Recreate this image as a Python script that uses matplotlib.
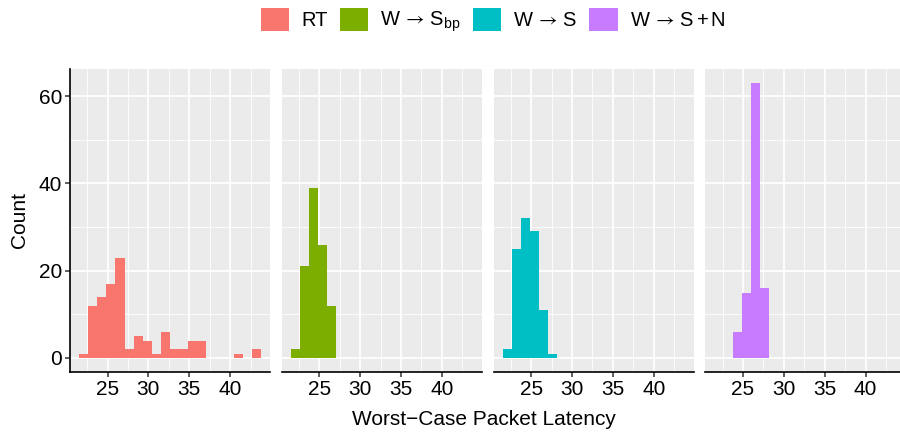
import numpy as np
import matplotlib
matplotlib.use("Agg")
import matplotlib.pyplot as plt
from matplotlib.patches import Patch

plt.rcParams["font.family"] = ["Liberation Sans", "DejaVu Sans"]
plt.rcParams["mathtext.fontset"] = "custom"
plt.rcParams["mathtext.rm"] = "Liberation Sans"
plt.rcParams["mathtext.it"] = "Liberation Sans:italic"
plt.rcParams["mathtext.sf"] = "STIXGeneral"

# Histogram bins shared by all facets (fixed x scale)
bin_start = 21.51
bin_width = 1.113
n_bins = 20

series_labels = [
    "RT",
    r"$\mathrm{W}\,\mathsf{\rightarrow}\,\mathrm{S}_{\mathrm{bp}}$",
    r"$\mathrm{W}\,\mathsf{\rightarrow}\,\mathrm{S}$",
    r"$\mathrm{W}\,\mathsf{\rightarrow}\,\mathrm{S}\,{+}\,\mathrm{N}$",
]
series_colors = ["#F8766D", "#7CAE00", "#00BFC4", "#C77CFF"]

counts_rt = [1, 12, 14, 17, 23, 2, 5, 4, 1, 6, 2, 2, 4, 4, 0, 0, 0, 1, 0, 2]
counts_w_sbp = [2, 21, 39, 26, 12, 0, 0, 0, 0, 0, 0, 0, 0, 0, 0, 0, 0, 0, 0, 0]
counts_w_s = [2, 25, 32, 29, 11, 1, 0, 0, 0, 0, 0, 0, 0, 0, 0, 0, 0, 0, 0, 0]
counts_w_sn = [0, 0, 6, 15, 63, 16, 0, 0, 0, 0, 0, 0, 0, 0, 0, 0, 0, 0, 0, 0]
all_counts = [counts_rt, counts_w_sbp, counts_w_s, counts_w_sn]

x_ticks = [25, 30, 35, 40]
x_minor = [22.5, 27.5, 32.5, 37.5, 42.5]
y_ticks = [0, 20, 40, 60]
y_minor = [10, 30, 50]

edges = bin_start + bin_width * np.arange(n_bins + 1)
span = edges[-1] - edges[0]
xlim = (edges[0] - 0.05 * span, edges[-1] + 0.05 * span)
ymax = max(max(c) for c in all_counts)
ylim = (-0.05 * ymax, 1.05 * ymax)

W, H = 900, 432
fig = plt.figure(figsize=(W / 100, H / 100), dpi=100)

panel_left = 70
panel_step = 211.8
panel_w = 200
panel_top, panel_bot = 69.3, 371.7
fs = 15

axes = []
for i, (counts, color) in enumerate(zip(all_counts, series_colors)):
    x0 = panel_left + i * panel_step
    ax = fig.add_axes([x0 / W, 1 - panel_bot / H, panel_w / W, (panel_bot - panel_top) / H])
    ax.set_facecolor("#EBEBEB")
    ax.bar(edges[:-1], counts, width=bin_width, align="edge", color=color,
           linewidth=0, zorder=3)
    ax.set_xlim(*xlim)
    ax.set_ylim(*ylim)
    ax.set_xticks(x_ticks)
    ax.set_xticks(x_minor, minor=True)
    ax.set_yticks(y_ticks)
    ax.set_yticks(y_minor, minor=True)
    ax.grid(which="major", color="white", linewidth=1.25, zorder=1)
    ax.grid(which="minor", color="white", linewidth=0.6, zorder=1)
    ax.set_axisbelow(True)
    for s in ["top", "right", "left"]:
        ax.spines[s].set_visible(False)
    ax.spines["bottom"].set_color("black")
    ax.spines["bottom"].set_linewidth(1.2)
    ax.tick_params(axis="x", which="major", length=3.5, width=1.1, color="#333333",
                   labelsize=fs, labelcolor="black", pad=2.5)
    ax.tick_params(which="minor", length=0)
    if i == 0:
        ax.spines["left"].set_visible(True)
        ax.spines["left"].set_color("black")
        ax.spines["left"].set_linewidth(1.2)
        ax.tick_params(axis="y", which="major", length=3.5, width=1.1, color="#333333",
                       labelsize=fs, labelcolor="black", pad=2)
        ax.set_ylabel("Count", fontsize=fs, labelpad=7)
    else:
        ax.tick_params(axis="y", which="major", length=0, labelleft=False)
    axes.append(ax)

fig.text(483.5 / W, 1 - 425 / H, "Worst\u2212Case Packet Latency", fontsize=fs,
         ha="center", va="baseline")

handles = [Patch(facecolor=c, edgecolor="none") for c in series_colors]
fig.legend(handles, series_labels, loc="center", bbox_to_anchor=(493 / W, 1 - 21 / H),
           ncol=4, frameon=False, fontsize=14.5, handlelength=1.4, handleheight=1.4,
           handletextpad=0.6, columnspacing=0.6, borderpad=0, borderaxespad=0)

fig.savefig("out.png", dpi=100)
